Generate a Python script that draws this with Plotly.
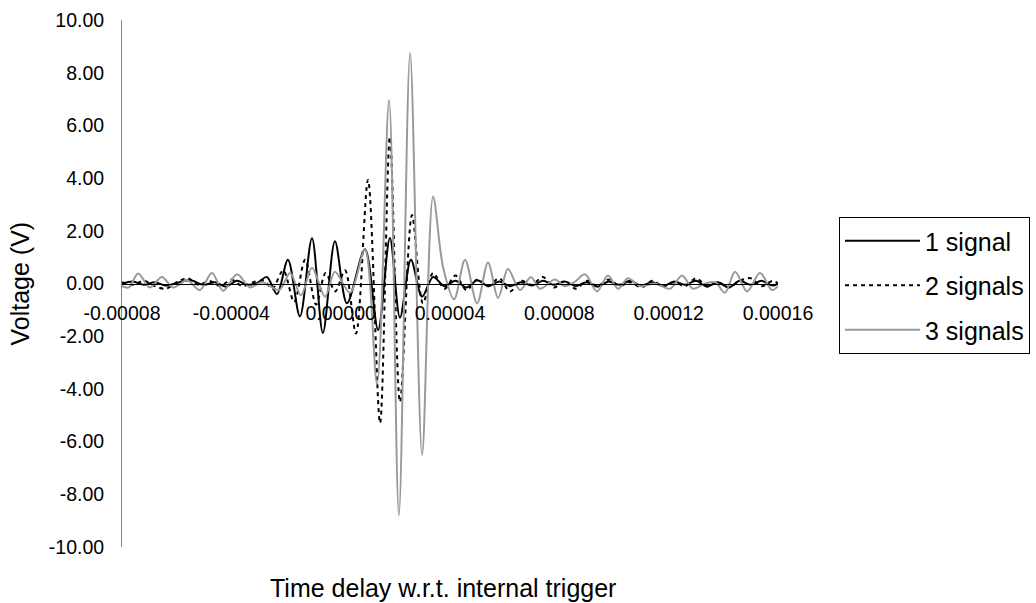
import plotly.graph_objects as go

# ---- data -------------------------------------------------------------
# time in microseconds, voltage in volts (turning points of each trace)
t_one = [-80, -76, -72, -68, -64, -59, -55, -50, -46, -42, -38, -34, -30,
         -27, -23.3, -19.3, -14.9, -10.5, -6.5, -2.1, 2.3, 8.9, 13.7, 18.0,
         21.7, 25.7, 29.8, 33.8,
         38, 42, 46, 50, 54, 58, 62, 66, 70, 74, 78, 82, 86, 90, 94, 98,
         102, 106, 110, 114, 118, 122, 126, 130, 134, 138, 142, 146, 150,
         154, 158, 160]
v_one = [0.0, 0.08, -0.05, 0.05, -0.08, 0.05, 0.12, -0.05, 0.05, -0.12, 0.1, -0.05, 0.05,
         0.25, -0.4, 0.9, -1.25, 1.72, -1.88, 1.6, -0.75, 1.3, -1.76, 1.73,
         -1.3, 0.9, -0.5, 0.25,
         -0.1, 0.1, -0.15, 0.12, -0.1, 0.08, -0.1, 0.05, -0.08, 0.1, -0.05, 0.08,
         -0.1, 0.05, -0.12, 0.08, -0.05, 0.1, -0.08, 0.05, -0.1, 0.08, -0.05, 0.1,
         -0.12, 0.05, -0.15, 0.1, -0.05, 0.1, -0.08, 0.0]

t_two = [-80, -76, -72, -68, -64, -60, -56, -52, -48, -44, -40, -36, -32, -28,
         -25, -21, -17, -13, -9, -5.5, -2,
         1.6, 5.6, 10.0, 14.4, 18.0, 21.7, 26.1, 30.1, 33.8,
         38, 42, 46, 50, 54, 58, 62, 66, 70, 74, 78, 82, 86, 90, 94, 98,
         102, 106, 110, 114, 118, 122, 126, 130, 134, 138, 142, 146, 150,
         154, 158, 160]
v_two = [0.05, -0.05, 0.1, -0.1, -0.2, 0.05, 0.2, -0.05, 0.1, -0.1, 0.15, -0.1, 0.05, 0.1,
         -0.2, 0.5, -0.7, 0.9, -0.8, 0.4, -0.3,
         0.5, -1.9, 3.93, -5.3, 5.56, -4.5, 2.6, -0.75, 0.4,
         -0.2, 0.3, -0.25, 0.15, -0.1, 0.2, -0.3, 0.1, -0.05, 0.25,
         -0.15, 0.1, -0.2, 0.1, -0.1, 0.15, -0.1, 0.05, -0.15, 0.1,
         -0.1, 0.05, -0.1, 0.2, -0.1, 0.05, -0.15, 0.1, 0.2, -0.1,
         0.1, 0.0]

t_three = [-80, -77.5, -74.1, -69.8, -65.4, -61.3, -56.2, -51.5, -47.1, -43.0,
           -37.9, -33.2, -28.8, -22.5, -18.5, -14.5, -10.5, -5.7, -2.1, 3.4,
           8.9, 13.3, 17.7, 21.3, 25.4, 29.8, 33.8, 37.5, 41.5, 45.5,
           49.9, 53.9, 57.6, 61.2, 65.6, 69.6, 72.9, 78.4, 82.0, 85.5,
           89.4, 93.8, 97.8, 101.5, 105.1, 109.5, 115.0, 120.5, 124.9, 128.9,
           133.3, 137.0, 140.6, 144.3, 148.7, 153.4, 157.8, 160]
v_three = [-0.1, -0.15, 0.38, -0.15, 0.25, -0.15, 0.12, -0.25, 0.4, -0.28,
           0.35, -0.15, 0.05, -0.25, 0.4, -0.45, 0.6, -0.5, 0.45, -0.35,
           1.3, -3.8, 6.96, -8.8, 8.75, -6.5, 3.3, 0.6, -0.6, 0.9,
           -0.75, 0.8, -0.55, 0.55, -0.25, 0.25, -0.2, 0.15, -0.1, 0.05,
           0.35, -0.3, 0.3, -0.2, 0.2, -0.1, 0.0, -0.2, 0.3, -0.2,
           0.0, 0.05, -0.35, 0.45, -0.3, 0.4, -0.25, -0.1]

series_names = ["1 signal", "2 signals", "3 signals"]

x_tick_vals = [-8e-5, -4e-5, 0.0, 4e-5, 8e-5, 1.2e-4, 1.6e-4]
x_tick_text = ["-0.00008", "-0.00004", "0.00000", "0.00004", "0.00008", "0.00012", "0.00016"]
y_tick_vals = [10, 8, 6, 4, 2, 0, -2, -4, -6, -8, -10]
y_tick_text = ["10.00", "8.00", "6.00", "4.00", "2.00", "0.00",
               "-2.00", "-4.00", "-6.00", "-8.00", "-10.00"]

FONT = "Liberation Sans, Arial, sans-serif"


def us_to_s(values):
    return [v * 1e-6 for v in values]


fig = go.Figure()
styles = [
    dict(color="#000000", width=2, dash="solid"),
    dict(color="#000000", width=2, dash="4px,4px"),
    dict(color="#999999", width=2, dash="solid"),
]
for name, tt, vv, st in zip(series_names, [t_one, t_two, t_three],
                            [v_one, v_two, v_three], styles):
    fig.add_trace(go.Scatter(
        x=us_to_s(tt), y=vv, name=name, mode="lines",
        line=dict(color=st["color"], width=st["width"], dash=st["dash"],
                  shape="spline", smoothing=0.9),
        legendgroup=name,
    ))

fig.update_layout(
    width=1036, height=603,
    margin=dict(l=122, r=258, t=20, b=56, autoexpand=False),
    paper_bgcolor="white", plot_bgcolor="white",
    font=dict(family=FONT, color="black"),
    showlegend=True,
    legend=dict(
        x=1.093, y=0.626, xanchor="left", yanchor="top",
        bordercolor="#000000", borderwidth=1,
        font=dict(family=FONT, size=25, color="black"),
        itemwidth=75, tracegroupgap=9,
        entrywidth=125, entrywidthmode="pixels",
    ),
    xaxis=dict(
        range=[-8e-5, 1.6e-4], anchor="free", position=0.5,
        showline=True, linecolor="#000000", linewidth=1,
        showgrid=False, zeroline=False, ticks="",
        tickvals=x_tick_vals, ticktext=x_tick_text,
        tickfont=dict(family=FONT, size=19.5, color="black"),
        ticklabelstandoff=12,
    ),
    yaxis=dict(
        range=[-10, 10],
        showline=True, linecolor="#868686", linewidth=1,
        showgrid=False, zeroline=False, ticks="",
        tickvals=y_tick_vals, ticktext=y_tick_text,
        tickfont=dict(family=FONT, size=19.5, color="black"),
        ticklabelstandoff=13,
    ),
    annotations=[
        dict(text="Time delay w.r.t. internal trigger", xref="paper", yref="paper",
             x=0.489, y=-0.078, xanchor="center", yanchor="middle",
             showarrow=False, font=dict(family=FONT, size=25, color="black")),
        dict(text="Voltage (V)", xref="paper", yref="paper",
             x=-0.1555, y=0.5, xanchor="center", yanchor="middle", textangle=-90,
             showarrow=False, font=dict(family=FONT, size=25, color="black")),
    ],
)

fig.write_html("out.html")
